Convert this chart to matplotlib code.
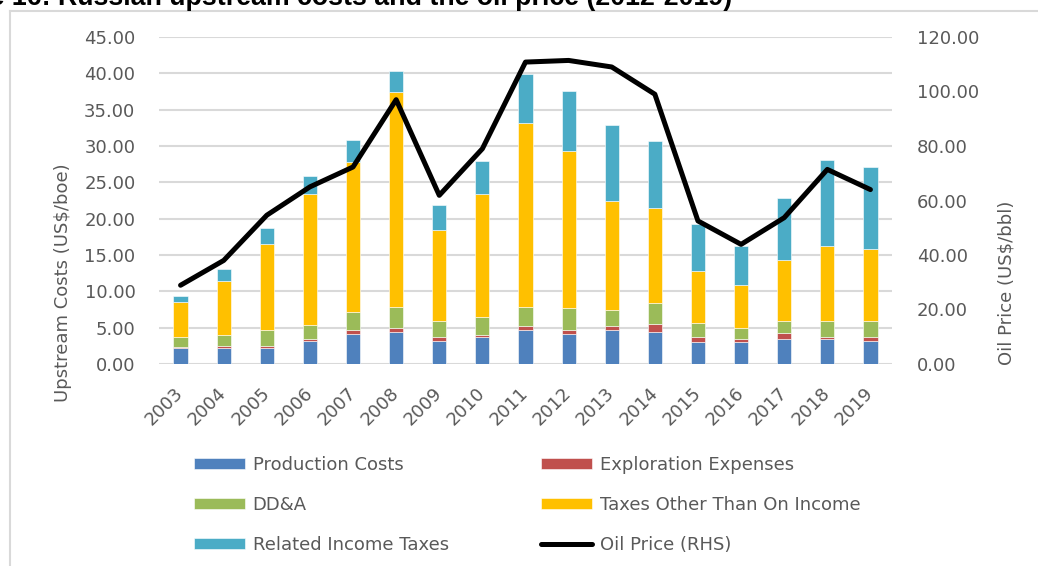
import matplotlib
matplotlib.use("Agg")
import matplotlib.pyplot as plt
import numpy as np
from matplotlib.lines import Line2D

years = ["2003", "2004", "2005", "2006", "2007", "2008", "2009", "2010", "2011",
         "2012", "2013", "2014", "2015", "2016", "2017", "2018", "2019"]
production_costs = [2.20, 2.20, 2.20, 3.16, 4.18, 4.45, 3.16, 3.67, 4.73,
                    4.18, 4.73, 4.45, 2.98, 2.98, 3.44, 3.44, 3.16]
exploration_expenses = [0.08, 0.28, 0.28, 0.24, 0.50, 0.50, 0.51, 0.28, 0.46,
                        0.46, 0.46, 1.01, 0.72, 0.46, 0.78, 0.26, 0.51]
dda = [1.42, 1.47, 2.22, 2.00, 2.47, 2.90, 2.23, 2.45, 2.66,
       3.02, 2.20, 2.94, 2.00, 1.56, 1.68, 2.20, 2.23]
taxes_other = [4.90, 7.45, 11.80, 18.00, 20.65, 29.55, 12.60, 17.00, 25.35,
               21.60, 15.01, 13.00, 7.10, 5.87, 8.36, 10.40, 9.90]
related_income_taxes = [0.75, 1.65, 2.26, 2.50, 3.00, 2.95, 3.40, 4.60, 6.65,
                        8.34, 10.50, 9.30, 6.40, 5.33, 8.64, 11.76, 11.26]
oil_price = [28.9, 38.0, 54.6, 65.0, 72.3, 97.0, 61.9, 79.0, 110.8,
             111.4, 109.0, 99.0, 52.5, 43.9, 53.7, 71.4, 64.0]

labels = ["Production Costs", "Exploration Expenses", "DD&A",
          "Taxes Other Than On Income", "Related Income Taxes"]
colors = ["#4F81BD", "#C0504D", "#9BBB59", "#FFC000", "#4BACC6"]
values = [production_costs, exploration_expenses, dda, taxes_other, related_income_taxes]

TXT = "#595959"
FS = 13
plt.rcParams["font.family"] = ["DejaVu Sans"]

W, H = 1038, 566
fig = plt.figure(figsize=(W / 100, H / 100), dpi=100)
ax = fig.add_axes([159 / W, 1 - 364 / H, (892 - 159) / W, (364 - 37) / H])

x = np.arange(len(years))
bottom = np.zeros(len(years))
handles = {}
for lab, vals, col in zip(labels, values, colors):
    v = np.array(vals)
    bc = ax.bar(x, v, 0.33, bottom=bottom, color=col, edgecolor="white",
                linewidth=0.4, label=lab, zorder=2)
    handles[lab] = bc
    bottom += v

ax.set_xlim(-0.5, len(years) - 0.5)
ax.set_ylim(0, 45)
ax.set_yticks(np.arange(0, 46, 5))
ax.set_yticklabels([f"{t:.2f}" for t in np.arange(0, 46, 5)])
ax.set_xticks(x)
ax.set_xticklabels(years, rotation=45, ha="right", va="center", rotation_mode="anchor")
ax.yaxis.grid(True, color="#d9d9d9", linewidth=1.5)
ax.set_axisbelow(True)
for s in ax.spines.values():
    s.set_visible(False)
ax.tick_params(axis="x", length=0, pad=19, labelsize=FS, labelcolor=TXT)
ax.tick_params(axis="y", length=0, pad=17, labelsize=FS, labelcolor=TXT)
ax.set_ylabel("Upstream Costs (US$/boe)", fontsize=FS, color=TXT)
ax.yaxis.set_label_coords(72 / W, 0.5, transform=fig.transFigure)

ax2 = ax.twinx()
line, = ax2.plot(x, oil_price, color="black", linewidth=3.6,
                 solid_joinstyle="round", solid_capstyle="round",
                 label="Oil Price (RHS)", zorder=3)
ax2.set_ylim(0, 120)
ax2.set_yticks(np.arange(0, 121, 20))
ax2.set_yticklabels([f"{t:.2f}" for t in np.arange(0, 121, 20)])
for s in ax2.spines.values():
    s.set_visible(False)
ax2.tick_params(axis="y", length=0, pad=18, labelsize=FS, labelcolor=TXT)
ax2.set_ylabel("Oil Price (US$/bbl)", fontsize=FS, color=TXT)
ax2.yaxis.set_label_coords(998 / W, 0.5, transform=fig.transFigure)

common = dict(frameon=False, fontsize=FS, labelcolor=TXT, borderpad=0,
              borderaxespad=0, handlelength=2.8, handleheight=0.6,
              handletextpad=0.45, labelspacing=1.22, loc="upper left")
leg1 = fig.legend([handles[labels[0]], handles[labels[2]], handles[labels[4]]],
                  [labels[0], labels[2], labels[4]],
                  bbox_to_anchor=(194 / W, 1 - 456 / H), **common)
leg2 = fig.legend([handles[labels[1]], handles[labels[3]], line],
                  [labels[1], labels[3], "Oil Price (RHS)"],
                  bbox_to_anchor=(541 / W, 1 - 456 / H), **common)

# outer chart border (partially visible)
fig.add_artist(Line2D([9.5 / W, 9.5 / W], [0, 1 - 11 / H], color="#d9d9d9",
                      linewidth=1.5, transform=fig.transFigure))
fig.add_artist(Line2D([9.5 / W, 1], [1 - 11 / H, 1 - 11 / H], color="#d9d9d9",
                      linewidth=1.5, transform=fig.transFigure))

fig.text(732 / W, 1 - 5 / H, "Figure 16: Russian upstream costs and the oil price (2012-2019)",
         ha="right", va="baseline", fontsize=19.3, fontweight="bold",
         family=["Liberation Sans", "DejaVu Sans"], color="black")

fig.savefig("out.png", dpi=100)
